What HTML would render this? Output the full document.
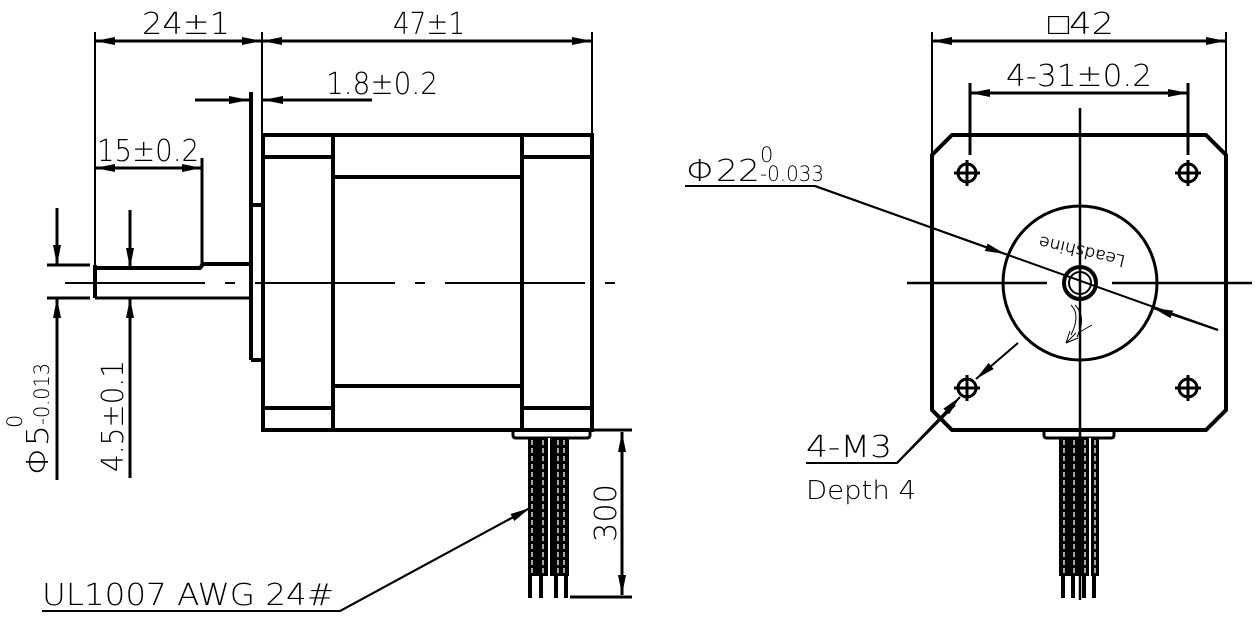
<!DOCTYPE html>
<html><head><meta charset="utf-8"><style>
html,body{margin:0;padding:0;background:#fff;}
svg{display:block;}
text{font-family:"DejaVu Sans","Liberation Sans",sans-serif;font-weight:200;fill:#000;}
</style></head><body>
<svg width="1256" height="619" viewBox="0 0 1256 619" xmlns="http://www.w3.org/2000/svg">
<defs>
<marker id="a" viewBox="0 0 20 8" refX="20" refY="4" markerWidth="20" markerHeight="8" markerUnits="userSpaceOnUse" orient="auto-start-reverse"><path d="M0,0L20,4L0,8z" fill="#000"/></marker>
</defs>
<g stroke="#000" fill="none" stroke-width="2">
<line x1="95" y1="32" x2="95" y2="292"/>
<line x1="262" y1="32" x2="262" y2="135"/>
<line x1="592" y1="32" x2="592" y2="135"/>
<line x1="95" y1="41" x2="262" y2="41" stroke-width="3" marker-start="url(#a)" marker-end="url(#a)"/>
<line x1="262" y1="41" x2="592" y2="41" stroke-width="3" marker-start="url(#a)" marker-end="url(#a)"/>
<line x1="195" y1="100" x2="249" y2="100" stroke-width="3" marker-end="url(#a)"/>
<line x1="372" y1="100" x2="263" y2="100" stroke-width="3" marker-end="url(#a)"/>
<line x1="95" y1="168" x2="202" y2="168" stroke-width="3" marker-start="url(#a)" marker-end="url(#a)"/>
<line x1="202" y1="158" x2="202" y2="265" stroke-width="3"/>
<g stroke-width="4">
<rect x="263" y="135" width="329" height="295"/>
<line x1="333" y1="135" x2="333" y2="430"/>
<line x1="522" y1="135" x2="522" y2="430"/>
<line x1="263" y1="157" x2="333" y2="157"/>
<line x1="522" y1="157" x2="592" y2="157"/>
<line x1="333" y1="177" x2="522" y2="177"/>
<line x1="263" y1="408" x2="333" y2="408"/>
<line x1="522" y1="408" x2="592" y2="408"/>
<line x1="333" y1="386" x2="522" y2="386"/>
<line x1="251" y1="92" x2="251" y2="360"/>
<polyline points="251,205 262,205"/>
<polyline points="251,360 262,360"/>
<polyline points="95,265 95,298"/>
<polyline points="95,268 200,268 203,264 251,264"/>
</g>
<line x1="95" y1="298" x2="251" y2="298" stroke-width="3"/>
<line x1="65" y1="283" x2="620" y2="283" stroke-dasharray="140,20,10,20"/>
<line x1="47" y1="265" x2="90" y2="265" stroke-width="3"/>
<line x1="47" y1="298" x2="90" y2="298" stroke-width="3"/>
<line x1="57" y1="208" x2="57" y2="265" stroke-width="3" marker-end="url(#a)"/>
<line x1="57" y1="480" x2="57" y2="298" stroke-width="3" marker-end="url(#a)"/>
<line x1="130" y1="210" x2="130" y2="268" stroke-width="3" marker-end="url(#a)"/>
<line x1="130" y1="478" x2="130" y2="298" stroke-width="3" marker-end="url(#a)"/>
<path d="M513,430 v5 q0,3 3,3 h71 q3,0 3,-3 v-5" stroke-width="3"/>
<g stroke-width="4"><line x1="530" y1="438" x2="530" y2="598"/><line x1="541" y1="438" x2="541" y2="598"/><line x1="556" y1="438" x2="556" y2="598"/><line x1="566" y1="438" x2="566" y2="598"/></g>
<rect x="528" y="438" width="41" height="138" fill="#000" stroke="none"/>
<g stroke="#fff" stroke-width="1.3" stroke-dasharray="5,3"><line x1="532" y1="440" x2="532" y2="574"/><line x1="543" y1="440" x2="543" y2="574"/><line x1="558" y1="440" x2="558" y2="574"/><line x1="564" y1="440" x2="564" y2="574"/></g>
<line x1="549" y1="438" x2="549" y2="576" stroke="#fff" stroke-width="2"/>
<line x1="590" y1="430" x2="632" y2="430" stroke-width="3"/>
<line x1="570" y1="597" x2="632" y2="597" stroke-width="3"/>
<line x1="622" y1="432" x2="622" y2="595" stroke-width="3" marker-start="url(#a)" marker-end="url(#a)"/>
<polyline points="42,611 340,611 530,508" stroke-width="2"/>
<line x1="340" y1="611" x2="530" y2="508" marker-end="url(#a)"/>
<line x1="932" y1="32" x2="932" y2="155"/>
<line x1="1226" y1="32" x2="1226" y2="155"/>
<line x1="932" y1="41" x2="1226" y2="41" stroke-width="3" marker-start="url(#a)" marker-end="url(#a)"/>
<line x1="970" y1="83" x2="970" y2="155" stroke-width="3"/>
<line x1="1188" y1="83" x2="1188" y2="155" stroke-width="3"/>
<line x1="970" y1="93" x2="1188" y2="93" stroke-width="3" marker-start="url(#a)" marker-end="url(#a)"/>
<polygon points="952,135 1206,135 1226,155 1226,410 1206,430 952,430 932,410 932,155" stroke-width="4"/>
<g stroke-width="3">
<circle cx="967" cy="173" r="9"/><circle cx="1188" cy="173" r="9"/><circle cx="967" cy="388" r="9"/><circle cx="1188" cy="388" r="9"/>
<path d="M954,173h26M967,160v26M1175,173h26M1188,160v26M954,388h26M967,375v26M1175,388h26M1188,375v26"/>
<circle cx="1080" cy="283" r="77"/>
<circle cx="1080" cy="283" r="16" stroke-width="4"/><circle cx="1080" cy="283" r="11" stroke-width="2"/>
</g>
<line x1="1080" y1="108" x2="1080" y2="600" stroke-width="2.5"/>
<line x1="907" y1="283" x2="1047" y2="283" stroke-width="2.5"/>
<line x1="1112" y1="283" x2="1252" y2="283" stroke-width="2.5"/>
<polyline points="685,186 815,186 1218,330" stroke-width="2"/>
<line x1="815" y1="186" x2="1005" y2="254" marker-end="url(#a)"/>
<line x1="1218" y1="330" x2="1153" y2="308" marker-end="url(#a)"/>
<polyline points="806,463 897,463 955,405" stroke-width="2"/>
<line x1="897" y1="463" x2="960" y2="397" marker-end="url(#a)"/>
<line x1="1018" y1="343" x2="976" y2="379" marker-end="url(#a)"/>
<path d="M1044,430 v5 q0,3 3,3 h64 q3,0 3,-3 v-5" stroke-width="3"/>
<rect x="1059" y="438" width="40" height="138" fill="#000" stroke="none"/>
<g stroke-width="4"><line x1="1063" y1="576" x2="1063" y2="598"/><line x1="1073" y1="576" x2="1073" y2="598"/><line x1="1084" y1="576" x2="1084" y2="598"/><line x1="1094" y1="576" x2="1094" y2="598"/></g>
<g stroke="#fff" stroke-width="1.3" stroke-dasharray="5,3"><line x1="1064" y1="440" x2="1064" y2="574"/><line x1="1074" y1="440" x2="1074" y2="574"/><line x1="1085" y1="440" x2="1085" y2="574"/><line x1="1095" y1="440" x2="1095" y2="574"/></g>
<line x1="1090" y1="438" x2="1090" y2="576" stroke="#fff" stroke-width="2"/>
<path d="M1071,305 q10,10 0,30 M1075,305 q12,12 2,32 M1066,343 l10,-10 M1066,343 l4,-12 M1066,343 l12,-5 M1078,333 l14,-8" stroke-width="1"/>
</g>
<g font-size="30">
<text x="142" y="34" textLength="88" lengthAdjust="spacingAndGlyphs">24±1</text>
<text x="393" y="34" textLength="72" lengthAdjust="spacingAndGlyphs">47±1</text>
<text x="326" y="94" textLength="112" lengthAdjust="spacingAndGlyphs">1.8±0.2</text>
<text x="97" y="161" textLength="102" lengthAdjust="spacingAndGlyphs">15±0.2</text>
<text x="42" y="605" textLength="292" lengthAdjust="spacingAndGlyphs">UL1007 AWG 24#</text>
<text x="1048" y="34" textLength="66" lengthAdjust="spacingAndGlyphs">□42</text>
<text x="1006" y="86" textLength="146" lengthAdjust="spacingAndGlyphs">4-31±0.2</text>
<text x="686" y="181" textLength="74" lengthAdjust="spacingAndGlyphs">Φ22</text>
<text x="806" y="457" textLength="86" lengthAdjust="spacingAndGlyphs">4-M3</text>
<text x="0" y="0" transform="translate(48,475) rotate(-90)" textLength="50" lengthAdjust="spacingAndGlyphs">Φ5</text>
<text x="0" y="0" transform="translate(123,472) rotate(-90)" textLength="112" lengthAdjust="spacingAndGlyphs">4.5±0.1</text>
<text x="0" y="0" transform="translate(616,542) rotate(-90)" textLength="58" lengthAdjust="spacingAndGlyphs">300</text>
</g>
<g font-size="21">
<text x="760" y="162">0</text>
<text x="760" y="181" textLength="64" lengthAdjust="spacingAndGlyphs">-0.033</text>
<text x="0" y="0" transform="translate(22,428) rotate(-90)">0</text>
<text x="0" y="0" transform="translate(49,425) rotate(-90)" textLength="62" lengthAdjust="spacingAndGlyphs">-0.013</text>
</g>
<text x="806" y="499" font-size="26" textLength="110" lengthAdjust="spacingAndGlyphs">Depth 4</text>
<text x="0" y="0" font-size="16" transform="translate(1126,256) rotate(193)" stroke="#000" stroke-width="0.4" fill="#fff" textLength="88" lengthAdjust="spacingAndGlyphs">Leadshine</text>
</svg>
</body></html>
